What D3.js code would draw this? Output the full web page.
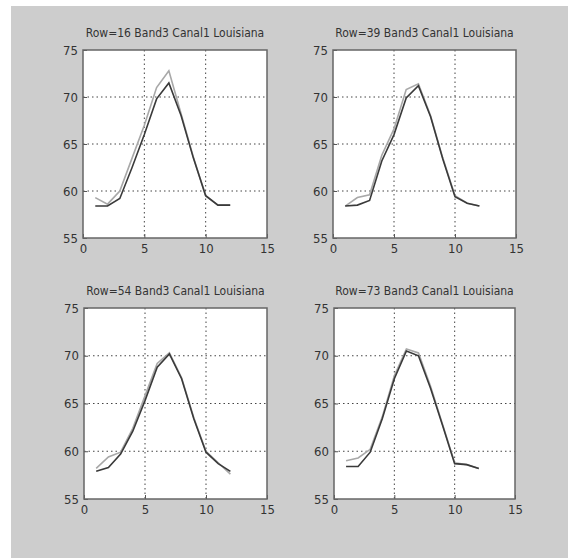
<!DOCTYPE html>
<html>
<head>
<meta charset="utf-8">
<script src="https://cdn.jsdelivr.net/npm/d3@7"></script>
<style>
  body { margin: 0; background: #fff; }
  text { font-family: "Liberation Sans Narrow", "DejaVu Sans Condensed", "Liberation Sans", sans-serif; }
</style>
</head>
<body>
<div id="chart"></div>
<script>
// data
const titles = [
  "Row=16 Band3 Canal1 Louisiana",
  "Row=39 Band3 Canal1 Louisiana",
  "Row=54 Band3 Canal1 Louisiana",
  "Row=73 Band3 Canal1 Louisiana"
];
const months = [1, 2, 3, 4, 5, 6, 7, 8, 9, 10, 11, 12];
const xTicks = [0, 5, 10, 15];
const yTicks = [55, 60, 65, 70, 75];

const dark16 = [58.4, 58.4, 59.2, 62.5, 66.0, 69.8, 71.5, 68.0, 63.5, 59.5, 58.5, 58.5];
const light16 = [59.3, 58.6, 60.0, 63.5, 67.0, 71.0, 72.8, 68.2, 63.6, 59.5, 58.5, 58.5];
const dark39 = [58.4, 58.5, 59.0, 63.2, 66.0, 69.9, 71.2, 67.9, 63.4, 59.4, 58.7, 58.4];
const light39 = [58.4, 59.3, 59.6, 63.8, 66.6, 70.8, 71.4, 68.0, 63.5, 59.5, 58.7, 58.4];
const dark54 = [57.9, 58.3, 59.7, 62.1, 65.3, 68.8, 70.2, 67.6, 63.4, 59.9, 58.7, 57.9];
const light54 = [58.2, 59.4, 59.9, 62.4, 65.8, 69.2, 70.3, 67.7, 63.5, 60.0, 58.8, 57.6];
const dark73 = [58.4, 58.4, 59.9, 63.4, 67.6, 70.5, 70.0, 66.6, 62.7, 58.7, 58.6, 58.2];
const light73 = [59.0, 59.3, 60.2, 63.6, 67.9, 70.7, 70.3, 66.8, 62.8, 58.8, 58.6, 58.2];

const darkSeries = [dark16, dark39, dark54, dark73];
const lightSeries = [light16, light39, light54, light73];

const W = 568, H = 558;
const svg = d3.select("#chart").append("svg")
  .attr("width", W).attr("height", H);

// gray figure background
svg.append("rect")
  .attr("x", 11).attr("y", 6)
  .attr("width", W - 11).attr("height", H - 6)
  .attr("fill", "#cdcdcd");

// axes boxes [left, top, right, bottom]
const boxes = [
  [83, 50, 267, 238],
  [333, 50, 516, 238],
  [84, 308, 267, 499],
  [334, 308, 515, 499]
];

boxes.forEach((b, i) => {
  const [l, t, r, bt] = b;
  const x = d3.scaleLinear().domain([0, 15]).range([l, r]);
  const y = d3.scaleLinear().domain([55, 75]).range([bt, t]);
  const g = svg.append("g");

  g.append("rect")
    .attr("x", l).attr("y", t)
    .attr("width", r - l).attr("height", bt - t)
    .attr("fill", "#fff");

  // dotted grid
  g.selectAll(".gx")
    .data(xTicks.slice(1, -1))
    .join("line")
      .attr("x1", d => x(d)).attr("x2", d => x(d))
      .attr("y1", t).attr("y2", bt)
      .attr("stroke", "#444")
      .attr("stroke-width", 1)
      .attr("stroke-dasharray", "1.5,3");
  g.selectAll(".gy")
    .data(yTicks.slice(1, -1))
    .join("line")
      .attr("y1", d => y(d)).attr("y2", d => y(d))
      .attr("x1", l).attr("x2", r)
      .attr("stroke", "#444")
      .attr("stroke-width", 1)
      .attr("stroke-dasharray", "1.5,3");

  const line = d3.line()
    .x((d, j) => x(months[j]))
    .y(d => y(d));

  g.append("path")
    .datum(lightSeries[i])
    .attr("fill", "none")
    .attr("stroke", "#a8a8a8")
    .attr("stroke-width", 1.6)
    .attr("d", line);
  g.append("path")
    .datum(darkSeries[i])
    .attr("fill", "none")
    .attr("stroke", "#3a3a3a")
    .attr("stroke-width", 1.6)
    .attr("d", line);

  // axes with inward ticks
  const xa = g.append("g")
    .attr("transform", `translate(0,${bt})`)
    .call(d3.axisBottom(x).tickValues(xTicks).tickSizeInner(-4).tickSizeOuter(0).tickPadding(6));
  const ya = g.append("g")
    .attr("transform", `translate(${l},0)`)
    .call(d3.axisLeft(y).tickValues(yTicks).tickSizeInner(-4).tickSizeOuter(0).tickPadding(5));
  [xa, ya].forEach(a => {
    a.select(".domain").remove();
    a.selectAll(".tick line").attr("stroke", "#555");
    a.selectAll("text")
      .attr("fill", "#333")
      .style("font-size", "13px");
  });

  g.append("rect")
    .attr("x", l).attr("y", t)
    .attr("width", r - l).attr("height", bt - t)
    .attr("fill", "none")
    .attr("stroke", "#666")
    .attr("stroke-width", 1.5);

  g.append("text")
    .attr("x", (l + r) / 2)
    .attr("y", t - 13)
    .attr("text-anchor", "middle")
    .attr("fill", "#333")
    .style("font-size", "12px")
    .text(titles[i]);
});
</script>
</body>
</html>
